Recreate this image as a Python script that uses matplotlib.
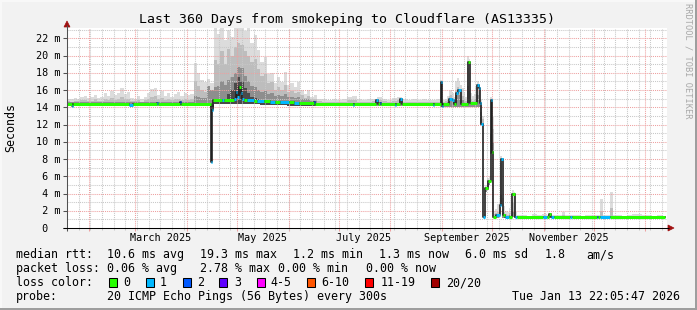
import matplotlib
matplotlib.use("Agg")
import matplotlib.pyplot as plt
from matplotlib.patches import Rectangle, Polygon
from matplotlib.lines import Line2D
from datetime import datetime, timedelta

plt.rcParams['font.family'] = ['DejaVu Sans Mono']

# ---------------- data ----------------
title = "Last 360 Days from smokeping to Cloudflare (AS13335)"
ylabel = "Seconds"
watermark = "RRDTOOL / TOBI OETIKER"
END = datetime(2026, 1, 13, 22, 5, 47)
SPAN_DAYS = 360
y_tick_values = [0, 2, 4, 6, 8, 10, 12, 14, 16, 18, 20, 22]
month_labels = ["March 2025", "May 2025", "July 2025", "September 2025", "November 2025"]
month_label_dates = [datetime(2025, 3, 16), datetime(2025, 5, 16), datetime(2025, 7, 16),
                     datetime(2025, 9, 16), datetime(2025, 11, 16)]

# median rtt (ms) as steps: start day, value, loss class
med_day = [0.0, 3.0, 3.8, 37.2, 39.4, 53.8, 54.4, 67.8, 68.4, 86.4, 87.0, 87.6, 93.0, 94.0,
           100.4, 101.2, 102.2, 103.2, 104.2, 105.2, 106.2, 108.0, 112.0, 114.0, 118.0, 122.0,
           125.0, 128.0, 133.0, 136.0, 139.0, 148.0, 148.6, 171.6, 172.2, 185.6, 186.4, 187.6,
           188.2, 196.6, 197.4, 200.0, 200.8, 219.6, 220.4, 224.6, 225.2, 225.8, 229.4, 231.2,
           232.2, 233.6, 234.8, 236.2, 240.8, 241.6, 246.2, 247.0, 247.6, 248.4, 249.8, 251.0,
           252.8, 254.4, 255.0, 255.8, 257.4, 259.8, 260.6, 261.4, 262.6, 265.4, 267.2, 268.8,
           270.0, 285.4, 288.2, 289.4, 290.2, 292.0, 302.0, 303.0, 318.0, 318.8, 319.6, 325.8]
med_val = [14.4, 14.2, 14.4, 14.3, 14.4, 14.5, 14.4, 14.6, 14.4, 7.7, 13.7, 14.8, 14.8, 14.8,
           15.0, 15.8, 15.2, 16.3, 15.7, 15.0, 14.8, 14.8, 14.7, 14.7, 14.7, 14.6,
           14.6, 14.6, 14.6, 14.5, 14.5, 14.6, 14.4, 14.3, 14.4, 14.8, 14.4, 14.5,
           14.4, 14.3, 14.4, 15.0, 14.4, 14.3, 14.4, 16.9, 14.1, 14.4, 15.0, 14.8,
           14.4, 15.6, 16.0, 14.4, 19.3, 14.5, 16.6, 16.2, 14.5, 12.1, 1.3, 4.6,
           5.4, 14.8, 8.8, 1.3, 1.5, 2.7, 8.0, 1.5, 1.3, 1.3, 4.0, 1.3,
           1.25, 1.25, 1.25, 1.6, 1.25, 1.25, 1.25, 1.25, 1.3, 1.25, 1.25, 1.25]
med_loss = [0, 1, 0, 1, 0, 1, 0, 2, 0, 1, 1, 0, 1, 0,
            1, 1, 1, 0, 1, 1, 0, 1, 0, 1, 0, 1,
            0, 1, 0, 1, 0, 2, 0, 1, 0, 1, 0, 2,
            0, 1, 0, 1, 0, 1, 0, 1, 1, 0, 1, 1,
            0, 1, 1, 0, 0, 0, 1, 1, 1, 1, 1, 0,
            0, 1, 0, 0, 1, 1, 1, 0, 1, 0, 0, 1,
            0, 1, 0, 0, 1, 0, 1, 0, 2, 0, 1, 0]
med_end = 359.0

# smoke (ping spread), segment A: quiet period
A_day = list(range(0, 76, 2))
A_end = 76
A_lo = 14.1
A_top = [15.0, 14.9, 15.1, 15.0, 15.2, 15.3, 15.1, 15.2, 15.4, 15.1, 15.2, 15.6, 15.3, 15.9, 15.4,
         15.7, 16.2, 15.5, 15.8, 15.1, 15.0, 15.3, 14.9, 15.2, 15.6, 16.1, 16.2, 15.4, 15.9, 15.3,
         15.7, 15.2, 15.5, 15.8, 15.3, 15.6, 15.4, 15.5]
A_mid = [14.7, 14.6, 14.7, 14.7, 14.8, 14.8, 14.7, 14.7, 14.9, 14.7, 14.7, 14.9, 14.8, 15.1, 14.8,
         15.0, 15.2, 14.9, 15.0, 14.7, 14.7, 14.8, 14.6, 14.8, 14.9, 15.2, 15.3, 14.9, 15.1, 14.8,
         15.0, 14.8, 14.9, 15.0, 14.8, 14.9, 14.8, 14.9]
A_dark = 14.6

# segment B: spring congestion
B_day = list(range(76, 150, 2))
B_end = 150
B_lo = [14.2, 14.2, 14.2, 14.2, 14.2, 14.0, 14.4, 14.4, 14.4, 14.4, 14.4, 14.4, 14.4, 14.4, 14.4,
        14.4, 14.4, 14.4, 14.4, 14.4, 14.3, 14.3, 14.3, 14.3, 14.3, 14.3, 14.3, 14.3, 14.2, 14.2,
        14.2, 14.2, 14.1, 14.1, 14.1, 14.1, 14.1]
B_top = [19.1, 18.0, 17.2, 16.9, 17.3, 16.8, 23.2, 22.5, 23.2, 21.8, 23.0, 22.2, 23.2, 23.2, 23.2,
         22.8, 23.2, 21.5, 22.4, 20.6, 19.2, 19.8, 17.8, 18.0, 16.8, 17.5, 16.9, 18.1, 16.6, 16.8,
         16.4, 16.9, 16.0, 15.5, 16.0, 15.2, 15.4]
B_mid = [17.0, 16.5, 16.0, 15.8, 16.2, 15.9, 19.5, 19.0, 20.5, 19.0, 20.8, 20.0, 21.0, 21.5, 21.2,
         20.5, 20.0, 19.2, 19.6, 18.4, 17.6, 17.8, 16.8, 16.9, 16.0, 16.4, 16.0, 16.6, 15.8, 15.9,
         15.6, 15.8, 15.4, 15.1, 15.3, 14.9, 15.0]
B_dark = [15.3, 15.2, 15.1, 15.1, 16.5, 16.0, 16.3, 16.5, 17.0, 16.6, 17.2, 17.5, 18.0, 18.7, 18.5,
          17.6, 17.0, 16.5, 16.4, 16.0, 15.8, 15.9, 15.5, 15.6, 15.3, 15.4, 15.3, 15.5, 15.2, 15.2,
          15.1, 15.2, 15.0, 14.9, 14.9, 14.7, 14.7]
B_core = [14.3, 14.3, 14.3, 14.3, 14.3, 14.3, 14.6, 14.8, 15.0, 14.9, 15.5, 16.0, 16.8, 17.5, 17.0,
          16.2, 15.6, 15.2, 15.1, 14.9, 14.8, 14.8, 14.7, 14.7, 14.6, 14.6, 14.6, 14.6, 14.5, 14.5,
          14.5, 14.5, 14.4, 14.4, 14.4, 14.4, 14.4]

# segment C: quiet summer
C_day = list(range(150, 224, 3))
C_end = 224
C_lo = 14.1
C_top = [15.0, 14.9, 14.8, 14.9, 14.8, 14.9, 15.2, 15.3, 14.9, 14.8, 14.9, 15.0, 15.2, 15.0, 14.8,
         15.1, 15.2, 14.9, 14.8, 14.9, 14.8, 14.9, 14.8, 14.8, 14.9]
C_mid = [14.7, 14.6, 14.6, 14.6, 14.6, 14.6, 14.8, 14.8, 14.6, 14.6, 14.6, 14.7, 14.8, 14.7, 14.6,
         14.7, 14.8, 14.6, 14.6, 14.6, 14.6, 14.6, 14.6, 14.6, 14.6]
C_dark = 14.55

# segment D: route change (daily)
D_day = list(range(224, 270, 1))
D_end = 270
D_lo = [14.0, 14.0, 14.0, 14.0, 14.0, 14.0, 14.0, 14.0, 14.0, 14.0, 14.0, 14.0, 14.0, 14.0, 14.0,
        14.0, 14.0, 14.0, 14.0, 14.0, 14.0, 14.0, 14.0, 14.0, 12.0, 11.8, 1.2, 4.2, 4.4, 5.0,
        8.6, 8.6, 1.2, 1.2, 1.2, 1.2, 2.5, 1.2, 1.2, 1.2, 1.2, 1.2, 1.2, 1.3, 1.2, 1.15]
D_top = [17.2, 14.8, 14.8, 15.0, 15.3, 15.9, 16.0, 15.6, 15.2, 17.0, 17.4, 17.0, 16.6, 16.2, 15.6,
         15.2, 20.0, 19.6, 15.6, 15.3, 15.5, 16.4, 17.0, 16.6, 14.9, 13.0, 2.0, 5.0, 5.8, 6.0,
         15.2, 12.9, 2.0, 2.2, 2.8, 3.0, 8.4, 3.5, 2.6, 2.0, 1.9, 2.3, 2.0, 4.4, 4.2, 1.8]
D_mid = [16.2, 14.6, 14.6, 14.7, 14.8, 15.3, 15.4, 15.1, 14.8, 16.0, 16.3, 16.0, 15.6, 15.3, 14.9,
         14.7, 18.5, 17.8, 14.9, 14.7, 14.8, 15.5, 16.3, 15.8, 14.2, 12.6, 1.6, 4.7, 5.2, 5.6,
         12.5, 11.5, 1.6, 1.7, 1.9, 2.2, 7.5, 2.2, 1.8, 1.6, 1.5, 1.7, 1.5, 3.0, 2.5, 1.4]
D_dark = [15.2, 14.5, 14.5, 14.5, 14.6, 14.9, 15.0, 14.8, 14.6, 15.4, 15.6, 15.4, 15.0, 14.8, 14.6,
          14.5, 16.5, 16.0, 14.6, 14.5, 14.5, 14.9, 15.4, 15.0, 13.5, 12.2, 1.4, 4.5, 4.8, 5.3,
          11.0, 10.0, 1.4, 1.5, 1.6, 1.8, 4.0, 1.7, 1.5, 1.4, 1.4, 1.5, 1.4, 2.0, 1.8, 1.3]

# segment E: new route
E_day = [270, 273, 276, 279, 282, 285, 288, 291, 294, 297, 299, 302, 305, 308, 311, 314, 317,
         319.6, 321.4, 324, 325.8, 327.4, 330, 333, 336, 339, 342, 345, 348, 351, 354, 357]
E_end = 359
E_lo = 1.15
E_top = [1.45, 1.5, 1.4, 1.6, 1.5, 1.6, 1.5, 1.45, 1.5, 1.9, 1.5, 1.45, 1.5, 1.4, 1.45, 1.5, 1.5,
         3.4, 1.5, 1.5, 4.2, 1.5, 1.45, 1.4, 1.5, 1.6, 1.65, 1.5, 1.45, 1.4, 1.45, 1.4]
E_mid = [1.35, 1.38, 1.33, 1.4, 1.36, 1.4, 1.36, 1.35, 1.36, 1.5, 1.36, 1.35, 1.36, 1.33, 1.35,
         1.36, 1.36, 2.0, 1.36, 1.36, 2.3, 1.36, 1.35, 1.33, 1.36, 1.4, 1.42, 1.36, 1.35, 1.33,
         1.35, 1.33]
E_dark = 1.3

loss_labels = ["0", "1", "2", "3", "4-5", "6-10", "11-19", "20/20"]
loss_colors = ["#26ff00", "#00b8ff", "#0059ff", "#5e00ff", "#ff00ff", "#ff5500", "#ff0000", "#a10000"]

rtt_label = "median rtt:"
rtt_stats = ["10.6 ms avg", "19.3 ms max", "1.2 ms min", "1.3 ms now", "6.0 ms sd", "1.8", "am/s"]
loss_label = "packet loss:"
loss_stats = ["0.06 % avg", "2.78 % max", "0.00 % min", "0.00 % now"]
color_label = "loss color:"
probe_label = "probe:"
probe_text = "20 ICMP Echo Pings (56 Bytes) every 300s"
stamp_text = "Tue Jan 13 22:05:47 2026"

# ---------------- layout ----------------
W, H = 697, 310
L, R, T, B = 67, 667, 28, 228
PX_PER_MS = 8.625
START = END - timedelta(days=SPAN_DAYS)

BG = "#f2f2f2"
SMOKE = ["#dcdcdc", "#bdbdbd", "#8e8e8e", "#4a4a4a"]
MINOR_C = "#c8c8c8"
MAJOR_C = "#eea0a0"

fig = plt.figure(figsize=(W / 100, H / 100), dpi=100)
fig.patch.set_facecolor(BG)


def fpt(x, y):
    return (x / W, 1 - y / H)


ax = fig.add_axes([L / W, 1 - B / H, (R - L) / W, (B - T) / H])
ax.set_facecolor("white")
ax.set_xlim(0, SPAN_DAYS)
ax.set_ylim(0, (B - T) / PX_PER_MS)
for s in ax.spines.values():
    s.set_visible(False)
ax.set_xticks([])
ax.set_yticks([])


def day_of(dt):
    return (dt - START).total_seconds() / 86400.0


def xpix(d):
    return L + (R - L) * d / SPAN_DAYS


def ypix(v):
    return B - v * PX_PER_MS


# grid
for v in range(1, 24):
    major = (v % 2 == 0)
    ax.axhline(v, color=MAJOR_C if major else MINOR_C, lw=0.75, ls=(0, (1, 1)), zorder=3)

month_starts = []
m = datetime(START.year, START.month, 1)
while m < END:
    if m > START:
        month_starts.append(m)
    m = datetime(m.year + (m.month // 12), m.month % 12 + 1, 1)
sundays = []
d0 = datetime(START.year, START.month, START.day) + timedelta(days=1)
while d0.weekday() != 6:
    d0 += timedelta(days=1)
while d0 < END:
    sundays.append(d0)
    d0 += timedelta(days=7)

for s in sundays:
    ax.axvline(day_of(s), color=MINOR_C, lw=0.75, ls=(0, (1, 1)), zorder=3)
for ms in month_starts:
    ax.axvline(day_of(ms), color=MAJOR_C, lw=0.75, ls=(0, (1, 1)), zorder=3)


def draw_smoke(days, end, lo, layers):
    edges = list(days) + [end]
    widths = [edges[i + 1] - edges[i] for i in range(len(days))]
    n = len(days)
    lo_l = lo if isinstance(lo, list) else [lo] * n
    for li, layer in enumerate(layers):
        if layer is None:
            continue
        lay = layer if isinstance(layer, list) else [layer] * n
        hts = [max(0.0, lay[i] - lo_l[i]) for i in range(n)]
        ax.bar(days, hts, width=widths, bottom=lo_l, align="edge", color=SMOKE[li],
               linewidth=0, antialiased=False, zorder=1 + li * 0.1)


draw_smoke(A_day, A_end, A_lo, [A_top, A_mid, A_dark, None])
draw_smoke(B_day, B_end, B_lo, [B_top, B_mid, B_dark, B_core])
draw_smoke(C_day, C_end, C_lo, [C_top, C_mid, C_dark, None])
draw_smoke(D_day, D_end, D_lo, [D_top, D_mid, D_dark, None])
draw_smoke(E_day, E_end, E_lo, [E_top, E_mid, E_dark, None])

# median line
xs = med_day + [med_end]
ys = med_val + [med_val[-1]]
ax.step(xs, ys, where="post", color="#202020", lw=1.2, zorder=5)
for i in range(len(med_day)):
    ax.hlines(med_val[i], xs[i], xs[i + 1], color=loss_colors[med_loss[i]], lw=2.16,
              zorder=6, capstyle="butt")

# axes lines, ticks and arrows (figure pixel coordinates)
AX_C = "#505050"
ARROW_C = "#a01010"


def fline(x0, y0, x1, y1, color, lw=0.75):
    fig.add_artist(Line2D([x0 / W, x1 / W], [1 - y0 / H, 1 - y1 / H], color=color, lw=lw,
                          solid_capstyle="butt"))


for v in y_tick_values:
    yp = ypix(v)
    fline(63, yp, L, yp, AX_C)
for ms in month_starts:
    xp = xpix(day_of(ms))
    fline(xp, B, xp, B + 3, MAJOR_C)
for s in sundays:
    xp = xpix(day_of(s))
    fline(xp, B, xp, B + 2, MINOR_C)
fline(L, B + 3, L, 25, AX_C)
fline(63, B, 669, B, "#000000")
fig.add_artist(Polygon([fpt(L - 3, 27), fpt(L + 3, 27), fpt(L, 21)], closed=True,
                       facecolor=ARROW_C, edgecolor=ARROW_C, lw=0.5))
fig.add_artist(Polygon([fpt(668, B - 3), fpt(668, B + 3), fpt(674, B)], closed=True,
                       facecolor=ARROW_C, edgecolor=ARROW_C, lw=0.5))

# texts
AXIS_FS = 7.3
LEG_FS = 8.4
fig.text(*fpt(347, 23.3), title, fontsize=9.5, ha="center", va="baseline")
fig.text(*fpt(10.5, 127), ylabel, fontsize=LEG_FS, rotation=90, ha="center", va="center")
fig.text(*fpt(688, 61), watermark, fontsize=6.2, rotation=270, ha="center", va="center",
         color="#a8a8a8")
for v in y_tick_values:
    lab = f"{v:2d} m" if v > 0 else " 0"
    fig.text(*fpt(36, ypix(v) + 3.7), lab, fontsize=AXIS_FS, ha="left", va="baseline")
for lab, dt in zip(month_labels, month_label_dates):
    fig.text(*fpt(xpix(day_of(dt)), 241), lab, fontsize=AXIS_FS, ha="center", va="baseline")

row_y = [258.3, 272.3, 286.3, 300.3]
fig.text(*fpt(16, row_y[0]), rtt_label, fontsize=LEG_FS, va="baseline")
for s, x in zip(rtt_stats, [107.3, 200.5, 293.3, 379.3, 465, 545, 586]):
    fig.text(*fpt(x, row_y[0]), s, fontsize=LEG_FS, va="baseline")
fig.text(*fpt(16, row_y[1]), loss_label, fontsize=LEG_FS, va="baseline")
for s, x in zip(loss_stats, [107.3, 200.0, 278.3, 365.7]):
    fig.text(*fpt(x, row_y[1]), s, fontsize=LEG_FS, va="baseline")
fig.text(*fpt(16, row_y[2]), color_label, fontsize=LEG_FS, va="baseline")
box_x = [108.7, 145.7, 182.7, 219.3, 256.7, 307.3, 365.0, 430.7]
lab_x = [123.3, 160.0, 197.3, 234.3, 270.7, 321.7, 380.7, 445.7]
for lab, c, bx, lx in zip(loss_labels, loss_colors, box_x, lab_x):
    fig.add_artist(Rectangle(fpt(bx, 286.5), 8 / W, 8.5 / H, facecolor=c, edgecolor="black",
                             lw=0.75))
    fig.text(*fpt(lx, row_y[2]), lab, fontsize=LEG_FS, va="baseline")
fig.text(*fpt(16, row_y[3]), probe_label, fontsize=LEG_FS, va="baseline")
fig.text(*fpt(107.3, row_y[3]), probe_text, fontsize=LEG_FS, va="baseline")
fig.text(*fpt(680, row_y[3]), stamp_text, fontsize=LEG_FS, va="baseline", ha="right")

# 3D frame
fig.add_artist(Rectangle((0, 0), 1, 2 / H, facecolor="#9e9e9e", lw=0))
fig.add_artist(Rectangle((1 - 2 / W, 0), 2 / W, 1, facecolor="#9e9e9e", lw=0))
fig.add_artist(Rectangle((0, 1 - 2 / H), 1 - 2 / W, 2 / H, facecolor="#f8f8f8", lw=0))
fig.add_artist(Rectangle((0, 2 / H), 2 / W, 1 - 2 / H, facecolor="#f8f8f8", lw=0))

fig.savefig("out.png", dpi=100, facecolor=fig.get_facecolor())
